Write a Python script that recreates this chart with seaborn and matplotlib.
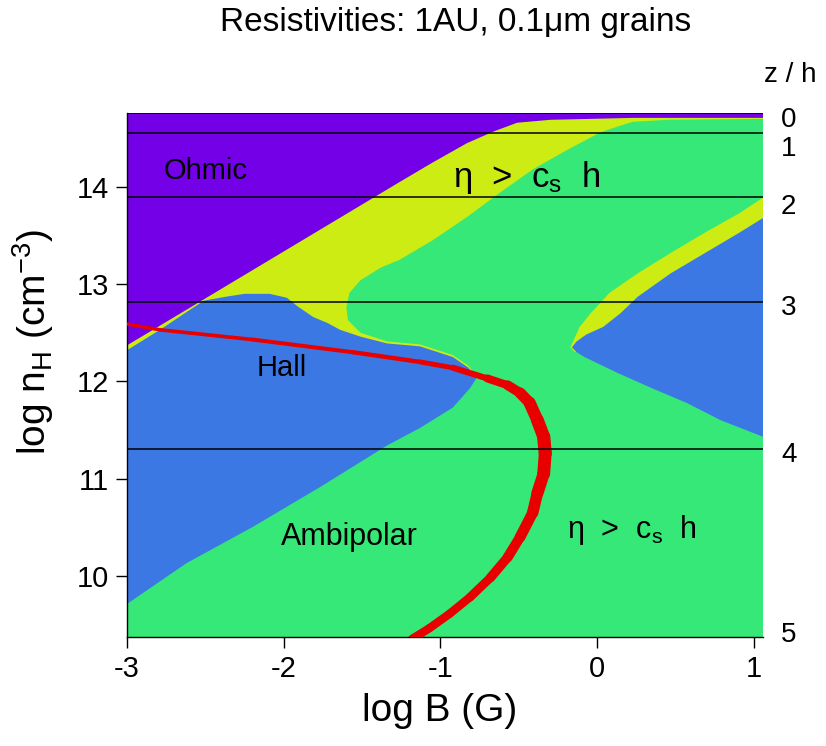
import numpy as np
import matplotlib
matplotlib.use("Agg")
import matplotlib.pyplot as plt
import seaborn as sns
from matplotlib.collections import LineCollection

# region boundaries, (log B, log n_H)
purple_b = [-3.00, -3.00, 1.06, 1.06, 0.23, -0.30, -0.51, -0.66, -0.83, -1.05, -1.26]
purple_n = [12.37, 14.76, 14.76, 14.71, 14.71, 14.69, 14.66, 14.57, 14.45, 14.25, 14.05]

yellow_b = [-3.00, -3.00, 1.06, 1.06, 0.45, 0.23, 0.13, 0.02, -0.19, -0.41, -0.62, -0.83,
            -1.05, -1.26, -1.38, -1.51, -1.58, -1.60, -1.59, -1.51, -1.34, -1.13, -0.92,
            -0.82, -0.765, -0.92, -3.00]
yellow_n = [12.00, 14.76, 14.76, 14.70, 14.69, 14.67, 14.62, 14.56, 14.38, 14.18, 13.94, 13.69,
            13.45, 13.25, 13.17, 13.04, 12.91, 12.76, 12.63, 12.50, 12.41, 12.38, 12.27,
            12.16, 12.04, 11.81, 11.60]

hall_b = [-3.00, -2.79, -2.51, -2.37, -2.25, -2.09, -1.98, -1.91, -1.81, -1.72, -1.64, -1.51,
          -1.34, -1.13, -0.92, -0.82, -0.77, -0.81, -0.92, -1.13, -1.34, -1.77, -2.20, -2.62, -3.00]
hall_n = [12.32, 12.53, 12.83, 12.87, 12.90, 12.90, 12.86, 12.77, 12.66, 12.60, 12.53, 12.46,
          12.39, 12.36, 12.25, 12.14, 12.03, 11.93, 11.73, 11.52, 11.34, 10.91, 10.50, 10.13, 9.71]

yellow2_b = [1.06, 0.91, 0.69, 0.47, 0.26, 0.08, -0.04, -0.11, -0.15, -0.17, -0.14, 1.06]
yellow2_n = [13.89, 13.73, 13.53, 13.32, 13.11, 12.91, 12.70, 12.56, 12.42, 12.35, 12.30, 12.90]

blue2_b = [1.06, 0.91, 0.69, 0.47, 0.26, 0.15, 0.04, -0.07, -0.13, -0.16, -0.13, -0.08,
           0.14, 0.35, 0.57, 0.79, 1.06]
blue2_n = [13.68, 13.53, 13.32, 13.11, 12.87, 12.70, 12.56, 12.48, 12.41, 12.35, 12.30, 12.25,
           12.08, 11.93, 11.78, 11.60, 11.43]

# red curve and its drawn thickness (pt)
red_b = [-3.00, -2.79, -2.20, -1.56, -1.13, -0.92, -0.70, -0.57, -0.49, -0.43, -0.38, -0.34,
         -0.33, -0.34, -0.38, -0.41, -0.49, -0.57, -0.68, -0.81, -0.94, -1.07, -1.17, -1.26]
red_n = [12.59, 12.53, 12.43, 12.30, 12.20, 12.14, 12.03, 11.96, 11.88, 11.78, 11.60, 11.43,
         11.26, 11.05, 10.85, 10.65, 10.40, 10.19, 9.98, 9.78, 9.61, 9.46, 9.36, 9.25]
red_w = [2.5, 2.5, 2.8, 3.0, 3.3, 3.8, 5.0, 6.5, 7.5, 8.5, 9.0, 9.5,
         9.5, 9.0, 8.5, 8.0, 7.5, 7.0, 6.5, 6.0, 6.0, 6.0, 6.0, 6.0]

# z / h levels
z_lines = [14.76, 14.55, 13.90, 12.82, 11.30]
z_label_pos = [14.72, 14.42, 13.82, 12.79, 11.27, 9.42]
z_labels = ["0", "1", "2", "3", "4", "5"]

purple = "#7300E6"
yellow = "#CDEC14"
green = "#36E878"
blue = "#3C78E4"
red = "#E80000"

sns.set_theme(style="ticks")
plt.rcParams["font.family"] = ["Liberation Sans", "DejaVu Sans"]
plt.rcParams["mathtext.fontset"] = "custom"
plt.rcParams["mathtext.rm"] = "Liberation Sans"
plt.rcParams["mathtext.it"] = "Liberation Sans:italic"
plt.rcParams["mathtext.bf"] = "Liberation Sans:bold"
plt.rcParams["axes.unicode_minus"] = False
for key in ["text.color", "axes.labelcolor", "xtick.color", "ytick.color"]:
    plt.rcParams[key] = "black"

fig = plt.figure(figsize=(8.26, 7.46), dpi=100)
ax = fig.add_axes([0.1538, 0.1461, 0.7699, 0.7024])
ax.set_facecolor(green)
ax.set_xlim(-3.0, 1.06)
ax.set_ylim(9.37, 14.76)

ax.fill(yellow_b, yellow_n, color=yellow, lw=0)
ax.fill(purple_b, purple_n, color=purple, lw=0)
ax.fill(hall_b, hall_n, color=blue, lw=0)
ax.fill(yellow2_b, yellow2_n, color=yellow, lw=0)
ax.fill(blue2_b, blue2_n, color=blue, lw=0)

pts = np.column_stack([red_b, red_n])
segs = [pts[i:i + 2] for i in range(len(pts) - 1)]
seg_w = [(red_w[i] + red_w[i + 1]) / 2 for i in range(len(pts) - 1)]
ax.add_collection(LineCollection(segs, linewidths=seg_w, colors=red, capstyle="round",
                                 joinstyle="round", zorder=3))

for z in z_lines:
    ax.axhline(z, color="black", lw=1.1, zorder=4)

ax.set_xticks([-3, -2, -1, 0, 1])
ax.set_yticks([10, 11, 12, 13, 14])
ax.tick_params(direction="out", length=8, width=1, labelsize=21, color="black", pad=5)
for s in ["top", "right"]:
    ax.spines[s].set_visible(False)
for s in ["left", "bottom"]:
    ax.spines[s].set_color("black")
    ax.spines[s].set_linewidth(1)

ax.set_xlabel("log B (G)", fontsize=28)
ax.xaxis.set_label_coords(0.492, -0.106)
ax.set_ylabel(r"log n$_\mathrm{H}$ (cm$^{-3}$)", fontsize=28)
ax.yaxis.set_label_coords(-0.112, 0.563)

ax2 = ax.twinx()
ax2.set_ylim(ax.get_ylim())
ax2.set_yticks(z_label_pos)
ax2.set_yticklabels(z_labels)
ax2.tick_params(length=0, pad=13, labelsize=20)
for s in ax2.spines.values():
    s.set_visible(False)

ax.text(-2.50, 14.16, "Ohmic", fontsize=21, ha="center", va="center")
ax.text(-0.45, 14.10, r"η  >  c$_\mathrm{s}$  h", fontsize=25, ha="center", va="center")
ax.text(-2.01, 12.14, "Hall", fontsize=21, ha="center", va="center")
ax.text(-1.58, 10.40, "Ambipolar", fontsize=22, ha="center", va="center")
ax.text(0.22, 10.47, r"η  >  c$_\mathrm{s}$  h", fontsize=22, ha="center", va="center")

fig.text(0.551, 0.970, "Resistivities: 1AU, 0.1μm grains", fontsize=24, ha="center", va="center")
fig.text(0.957, 0.899, "z / h", fontsize=20, ha="center", va="center")

fig.savefig("out.png", dpi=100)
